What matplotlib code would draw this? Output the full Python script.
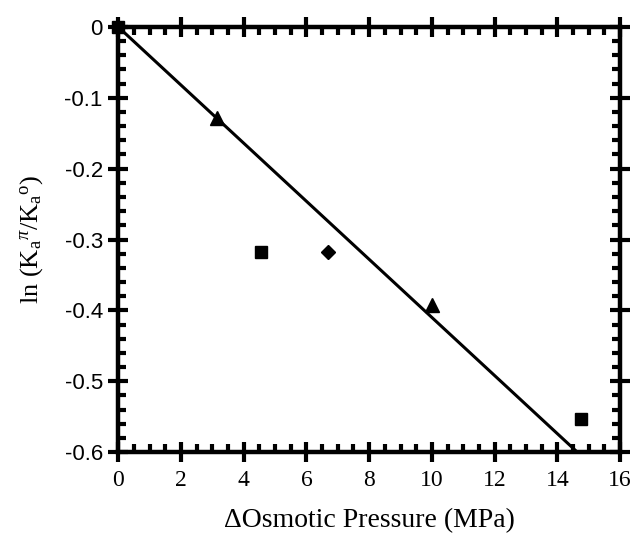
import matplotlib
matplotlib.use("Agg")
import matplotlib.pyplot as plt
from matplotlib.ticker import MultipleLocator
import numpy as np

# Data
sq_x = [0.0, 4.55, 14.75]
sq_y = [0.0, -0.318, -0.553]
tri_x = [3.15, 10.0]
tri_y = [-0.129, -0.392]
dia_x = [6.7]
dia_y = [-0.318]
fit_x = [0.0, 16.0]
fit_slope = -0.041

xticks = [0, 2, 4, 6, 8, 10, 12, 14, 16]
yticks = [0, -0.1, -0.2, -0.3, -0.4, -0.5, -0.6]
ytick_labels = ["0", "-0.1", "-0.2", "-0.3", "-0.4", "-0.5", "-0.6"]

plt.rcParams["mathtext.fontset"] = "custom"
plt.rcParams["mathtext.rm"] = "Liberation Serif"
plt.rcParams["mathtext.it"] = "Liberation Serif:italic"
plt.rcParams["mathtext.bf"] = "Liberation Serif:bold"

fig = plt.figure(figsize=(6.42, 5.37), dpi=100)
ax = fig.add_axes([0.184, 0.158, 0.782, 0.792])

fx = np.array(fit_x)
ax.plot(fx, fit_slope * fx, color="black", lw=2.2, zorder=2, clip_on=True)
ax.plot(sq_x, sq_y, ls="none", marker="s", color="black", ms=9, zorder=3, clip_on=False)
ax.plot(tri_x, tri_y, ls="none", marker="^", color="black", ms=10, zorder=3, clip_on=False)
ax.plot(dia_x, dia_y, ls="none", marker="D", color="black", ms=7.5, zorder=3, clip_on=False)

ax.set_xlim(0, 16)
ax.set_ylim(-0.6, 0)
ax.set_xticks(xticks)
ax.set_yticks(yticks)
ax.set_yticklabels(ytick_labels)
ax.xaxis.set_minor_locator(MultipleLocator(0.5))
ax.yaxis.set_minor_locator(MultipleLocator(0.02))

for s in ax.spines.values():
    s.set_linewidth(3.2)

ax.tick_params(which="major", direction="inout", length=14, width=3,
               top=True, right=True, labeltop=False, labelright=False)
ax.tick_params(axis="y", which="major", pad=4)
ax.tick_params(axis="x", which="major", pad=6)
ax.tick_params(which="minor", direction="in", length=6, width=3,
               top=True, right=True)

for lab in ax.get_yticklabels():
    lab.set_fontfamily("Liberation Sans")
    lab.set_fontsize(16)
for lab in ax.get_xticklabels():
    lab.set_fontfamily("Liberation Serif")
    lab.set_fontsize(17)

ax.set_xlabel("\u0394Osmotic Pressure (MPa)", fontfamily="Liberation Serif",
              fontsize=20, labelpad=12)
ax.set_ylabel(r"ln (K$_\mathregular{a}$$^{\pi}$/K$_\mathregular{a}$$^\mathregular{o}$)",
              fontfamily="Liberation Serif", fontsize=19, labelpad=14)

fig.savefig("out.png", dpi=100)
